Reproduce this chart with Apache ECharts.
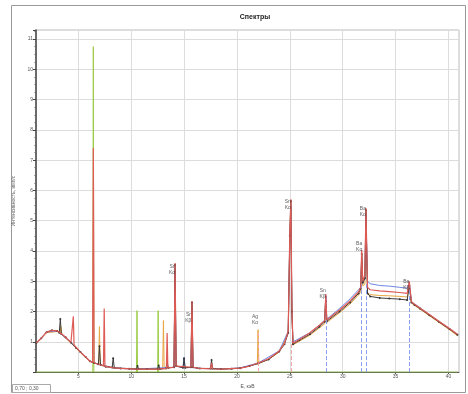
<!DOCTYPE html>
<html><head><meta charset="utf-8">
<script src="https://cdn.jsdelivr.net/npm/echarts@6/dist/echarts.min.js"></script>
<style>html,body{margin:0;padding:0;background:#fff}#c{width:468px;height:394px}</style>
</head><body><div id="c"></div>
<script>
// Energy axis (keV) and intensity axis
const xTickValues = [5, 10, 15, 20, 25, 30, 35, 40];
const yTickValues = [0, 1, 2, 3, 4, 5, 6, 7, 8, 9, 10, 11];

// Spectra: [energy keV, intensity]
const blackSpectrum = [[1.04,0.97],[1.5,1.12],[2.0,1.32],[2.5,1.38],[3.0,1.36],[3.2,1.3],[3.3,1.75],[3.4,1.26],[3.8,1.15],[4.3,0.98],[4.8,0.8],[5.2,0.66],[5.7,0.5],[6.1,0.36],[6.5,0.3],[6.9,0.26],[7.0,0.85],[7.1,0.24],[7.6,0.18],[8.2,0.15],[8.3,0.46],[8.4,0.14],[9.0,0.12],[9.8,0.11],[10.5,0.1],[10.6,0.2],[10.7,0.1],[11.5,0.1],[12.5,0.1],[12.6,0.22],[12.7,0.1],[13.3,0.12],[13.4,0.35],[13.5,0.14],[14.05,0.16],[14.15,3.55],[14.25,0.2],[14.9,0.14],[15.0,0.45],[15.1,0.14],[15.65,0.16],[15.75,2.3],[15.85,0.16],[16.5,0.12],[17.5,0.12],[17.6,0.4],[17.7,0.12],[18.5,0.1],[19.5,0.11],[20.3,0.13],[21.2,0.2],[22.0,0.28],[23.0,0.42],[24.0,0.68],[24.5,0.92],[24.85,1.3],[25.0,4.5],[25.1,5.65],[25.2,2.0],[25.3,0.92],[25.9,1.05],[26.9,1.25],[27.8,1.5],[28.3,1.66],[28.4,2.5],[28.5,1.68],[29.7,2.0],[30.7,2.3],[31.5,2.6],[31.7,2.75],[31.8,3.9],[31.9,2.95],[32.1,3.1],[32.2,5.35],[32.35,2.6],[32.6,2.5],[33.5,2.45],[34.4,2.43],[35.4,2.41],[36.1,2.38],[36.3,2.85],[36.5,2.3],[36.8,2.22],[37.3,2.1],[38.2,1.88],[39.1,1.66],[40.1,1.42],[40.85,1.23]];
const redSpectrum = [[1.04,0.97],[1.5,1.12],[2.0,1.32],[2.5,1.38],[3.0,1.36],[3.3,1.3],[3.8,1.15],[4.3,0.98],[4.45,0.94],[4.53,1.84],[4.6,0.9],[5.2,0.66],[5.7,0.5],[6.1,0.36],[6.35,0.32],[6.42,7.4],[6.5,0.3],[7.0,0.25],[7.38,0.2],[7.45,2.1],[7.52,0.19],[8.2,0.15],[9.0,0.12],[10.5,0.1],[12.5,0.1],[13.33,0.12],[13.4,1.29],[13.47,0.14],[14.05,0.16],[14.15,3.6],[14.25,0.2],[15.65,0.16],[15.75,2.35],[15.85,0.16],[16.5,0.12],[17.5,0.11],[17.6,0.3],[17.7,0.11],[18.5,0.1],[20.3,0.13],[21.2,0.2],[22.0,0.3],[23.0,0.44],[24.0,0.7],[24.5,0.95],[24.85,1.35],[25.0,4.6],[25.1,5.71],[25.2,2.1],[25.3,0.95],[25.9,1.08],[26.9,1.3],[27.8,1.55],[28.3,1.7],[28.4,2.58],[28.5,1.72],[29.7,2.05],[30.7,2.35],[31.5,2.65],[31.7,2.8],[31.8,4.03],[31.9,3.0],[32.1,3.2],[32.2,5.42],[32.35,2.8],[32.6,2.72],[33.5,2.68],[34.4,2.66],[35.4,2.63],[36.1,2.6],[36.3,3.0],[36.5,2.32],[36.8,2.24],[37.3,2.12],[38.2,1.9],[39.1,1.68],[40.1,1.44],[40.85,1.25]];
const blueSpectrum = [[1.04,0.97],[2.0,1.32],[3.0,1.36],[4.3,0.98],[5.2,0.66],[6.1,0.36],[7.0,0.25],[8.2,0.15],[10.5,0.1],[14.05,0.16],[14.15,3.4],[14.25,0.2],[14.9,0.15],[15.0,0.5],[15.1,0.15],[15.65,0.15],[15.75,2.2],[15.85,0.15],[16.5,0.12],[18.5,0.1],[20.3,0.14],[22.0,0.3],[24.0,0.7],[24.85,1.35],[25.0,4.4],[25.1,5.5],[25.2,2.0],[25.3,1.0],[26.9,1.3],[27.8,1.55],[28.3,1.72],[28.4,2.45],[28.5,1.75],[29.7,2.1],[30.7,2.42],[31.5,2.72],[31.7,2.8],[31.8,3.8],[31.9,3.0],[32.1,3.05],[32.2,5.2],[32.35,3.0],[32.6,2.92],[33.5,2.86],[34.4,2.84],[35.4,2.8],[36.1,2.77],[36.3,2.95],[36.5,2.33],[36.8,2.25],[37.3,2.13],[38.2,1.9],[39.1,1.68],[40.1,1.44],[40.85,1.25]];
const orangeSpectrum = [[1.04,0.97],[2.0,1.3],[3.0,1.34],[3.3,1.28],[3.35,1.5],[3.42,1.25],[4.3,0.96],[5.2,0.64],[6.1,0.35],[6.93,0.26],[7.0,1.5],[7.07,0.25],[8.2,0.15],[10.5,0.1],[12.98,0.11],[13.05,1.7],[13.12,0.12],[14.05,0.16],[14.15,3.3],[14.25,0.2],[15.65,0.15],[15.75,2.1],[15.85,0.15],[16.5,0.12],[18.5,0.1],[20.3,0.13],[21.93,0.28],[22.0,1.4],[22.07,0.29],[23.0,0.42],[24.0,0.66],[24.85,1.28],[25.0,4.3],[25.1,5.4],[25.2,1.9],[25.3,0.9],[26.9,1.22],[27.8,1.46],[28.3,1.6],[28.4,2.4],[28.5,1.64],[29.7,1.96],[30.7,2.25],[31.5,2.55],[31.7,2.65],[31.8,3.7],[31.9,2.85],[32.1,2.9],[32.2,5.1],[32.35,2.62],[32.6,2.56],[33.5,2.53],[34.4,2.52],[35.4,2.5],[36.1,2.48],[36.3,2.8],[36.5,2.28],[36.8,2.2],[37.3,2.08],[38.2,1.86],[39.1,1.64],[40.1,1.4],[40.85,1.2]];
const greenLines = [[1.04,0],[6.37,0],[6.42,10.75],[6.47,0],[10.5,0],[10.55,2.03],[10.6,0],[12.5,0],[12.55,2.03],[12.6,0],[40.85,0]];

// Peak annotations
const peakEnergies = [14.05, 15.6, 21.9, 25.0, 28.3, 32.1, 31.75, 36.2];
const peakLabelLevels = [3.39, 1.81, 1.74, 5.52, 2.58, 5.29, 4.16, 2.9];
const peakElements = ['Sr', 'Sr', 'Ag', 'Sn', 'Sn', 'Ba', 'Ba', 'Ba'];
const peakLines = ['Kα', 'Kβ', 'Kα', 'Kα', 'Kβ', 'Kα', 'Kα', 'Kβ'];

// Dashed marker lines [energy, top]
const blueMarkers = [[28.4, 2.5], [31.8, 2.9], [32.2, 2.95], [36.3, 2.8]];
const pinkMarkers = [[22.0, 1.3], [25.1, 1.0]];

const FONT = 'Liberation Sans';
const chart = echarts.init(document.getElementById('c'), null, {renderer: 'canvas'});

const labelData = peakEnergies.map((e, i) => [e, peakLabelLevels[i], peakElements[i] + '\n' + peakLines[i]]);
const vLines = (arr) => arr.map(m => [{coord: [m[0], 0]}, {coord: [m[0], m[1]]}]);

chart.setOption({
  animation: false,
  backgroundColor: '#fff',
  title: {text: 'Спектры', left: 250, top: 9, textAlign: 'center',
    textStyle: {fontFamily: FONT, fontSize: 7, fontWeight: 'bold', color: '#222'}},
  grid: {left: 36, right: 9, top: 30, bottom: 14, show: true, borderColor: '#bdbdbd', borderWidth: 1},
  graphic: [
    {type: 'rect', shape: {x: 11.5, y: 5.5, width: 454, height: 387}, style: {fill: 'none', stroke: '#999', lineWidth: 1}, silent: true, z: -1},
    {type: 'rect', shape: {x: 12.5, y: 384.5, width: 38, height: 8}, style: {fill: '#fff', stroke: '#aaa', lineWidth: 1}, z: 10},
    {type: 'text', left: 15, top: 386, style: {text: '0,70 ; 0,30', fontSize: 5, fontFamily: FONT, fill: '#555'}, z: 11}
  ],
  xAxis: {
    type: 'value', min: 1, max: 41, splitNumber: 8,
    name: 'E, кэВ', nameLocation: 'middle', nameGap: 8,
    nameTextStyle: {fontSize: 5, fontFamily: FONT, color: '#555'},
    axisLine: {lineStyle: {color: '#555', width: 1}},
    axisTick: {show: true, length: 2, lineStyle: {color: '#555'}},
    axisLabel: {fontSize: 5, fontFamily: FONT, color: '#555', margin: 2, showMinLabel: false, showMaxLabel: false,
      formatter: v => xTickValues.includes(v) ? String(v) : ''},
    splitLine: {show: true, lineStyle: {color: '#dcdcdc', width: 1}}
  },
  yAxis: {
    type: 'value', min: 0, max: 11.3, interval: 1,
    name: 'Интенсивность, имп/с', nameLocation: 'middle', nameGap: 19, nameRotate: 90,
    nameTextStyle: {fontSize: 5, fontFamily: FONT, color: '#666'},
    axisLine: {show: true, lineStyle: {color: '#444', width: 1.5}},
    axisTick: {show: true, length: 3, lineStyle: {color: '#444'}},
    minorTick: {show: true, splitNumber: 4, length: 1.5, lineStyle: {color: '#666'}},
    axisLabel: {fontSize: 5, fontFamily: FONT, color: '#555', margin: 3, showMaxLabel: false,
      formatter: v => yTickValues.includes(v) && v > 0 ? String(v) : ''},
    splitLine: {show: true, lineStyle: {color: '#dcdcdc', width: 1}}
  },
  series: [
    {name: 'green', type: 'line', data: greenLines, showSymbol: false, z: 1,
      lineStyle: {color: '#9ccc45', width: 1}},
    {name: 'orange', type: 'line', data: orangeSpectrum, showSymbol: false, z: 2,
      lineStyle: {color: '#e8a640', width: 1}},
    {name: 'blue', type: 'line', data: blueSpectrum, showSymbol: false, z: 3,
      lineStyle: {color: '#6f86e0', width: 1},
      markLine: {silent: true, symbol: 'none', label: {show: false},
        lineStyle: {color: '#8a9cf0', type: 'dashed', width: 1}, data: vLines(blueMarkers)}},
    {name: 'black', type: 'line', data: blackSpectrum, showSymbol: true, symbol: 'circle', symbolSize: 2, z: 4,
      itemStyle: {color: '#333'}, lineStyle: {color: '#3a3a3a', width: 1},
      markLine: {silent: true, symbol: 'none', label: {show: false},
        lineStyle: {color: '#f2a6a6', type: 'dashed', width: 1}, data: vLines(pinkMarkers)}},
    {name: 'red', type: 'line', data: redSpectrum, showSymbol: false, z: 5,
      lineStyle: {color: '#de5a55', width: 1.2}},
    {name: 'labels', type: 'scatter', data: labelData, symbolSize: 0, z: 6,
      label: {show: true, position: 'left', distance: 2, formatter: p => p.data[2],
        fontSize: 5, lineHeight: 6, fontFamily: FONT, color: '#333', align: 'center'}}
  ]
});
</script></body></html>
